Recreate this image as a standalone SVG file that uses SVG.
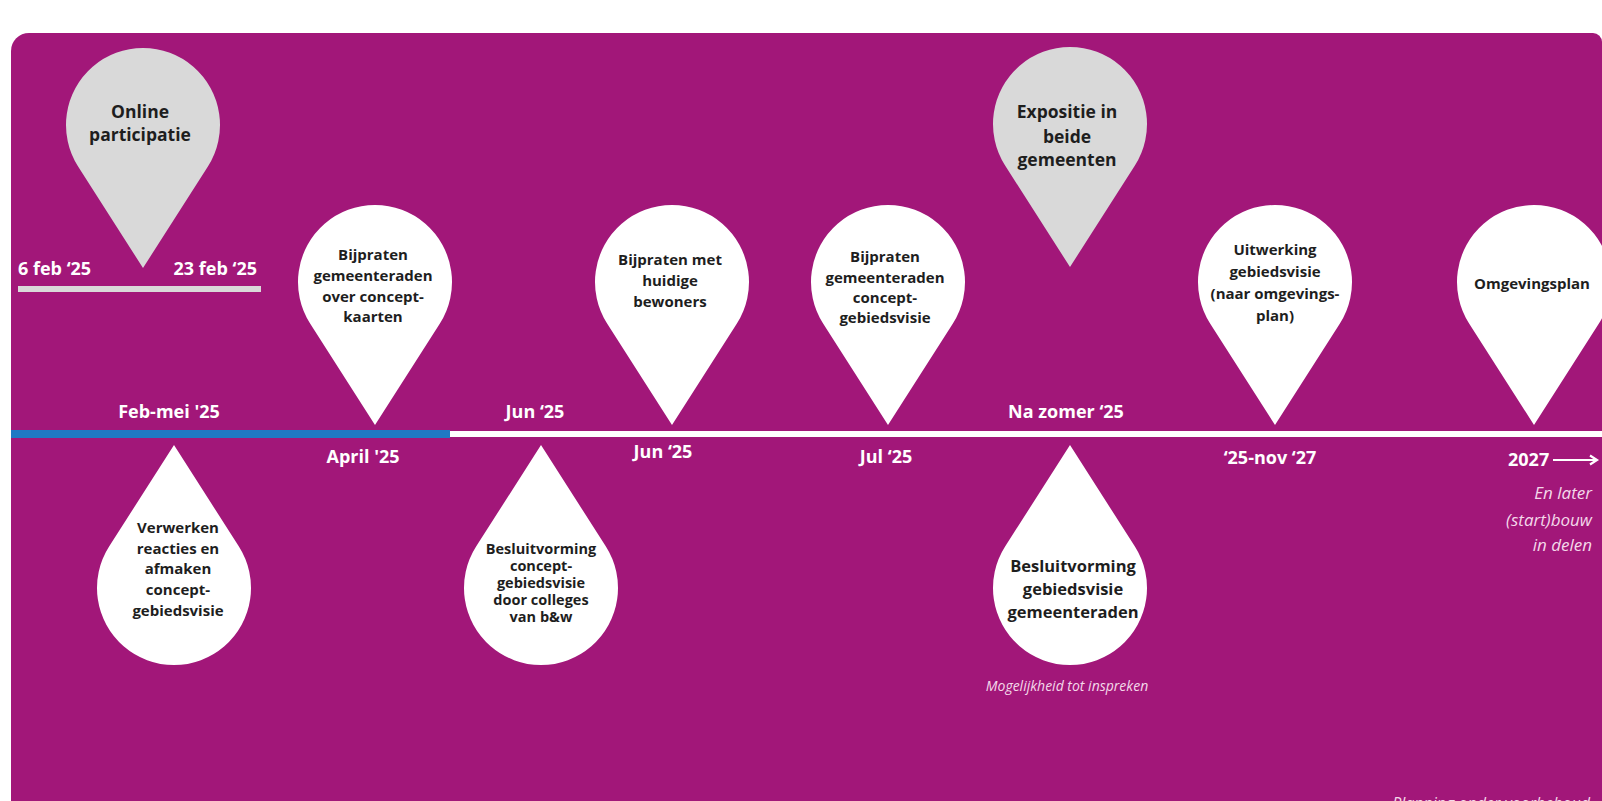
<svg xmlns="http://www.w3.org/2000/svg" xmlns:xlink="http://www.w3.org/1999/xlink" width="1602" height="801" viewBox="0 0 1602 801">
<style>
.bg{fill:#a21779}
.pinW{fill:#ffffff}
.pinG{fill:#d9d9d9}
.t{font-family:"Open Sans","Liberation Sans",sans-serif;font-weight:700;fill:#1e1e1e;text-anchor:middle}
.t15{font-size:15px}
.t17{font-size:17.5px}
.lab{font-family:"Open Sans","Liberation Sans",sans-serif;font-weight:700;font-size:18px;fill:#ffffff;text-anchor:middle}
.it{font-family:"Open Sans","Liberation Sans",sans-serif;font-style:italic;fill:#f4d9ea}
</style>
<defs>
<path id="pin" d="M0,143 L-64.9,41.46 A77,77 0 1 1 64.9,41.46 Z" stroke-linejoin="round"/>
<marker id="arr" markerWidth="14" markerHeight="14" refX="11" refY="7" orient="auto" markerUnits="userSpaceOnUse">
<path d="M4,2.5 L11,7 L4,11.5" fill="none" stroke="#ffffff" stroke-width="2.2"/>
</marker>
</defs>
<rect width="1602" height="801" fill="#ffffff"/>
<path class="bg" d="M11,51 A18,18 0 0 1 29,33 L1593,33 A9,9 0 0 1 1602,42 L1602,801 L11,801 Z"/>

<g id="connectors">
<rect x="11" y="430" width="439" height="8" fill="#2079c4"/>
<rect x="450" y="431" width="1152" height="6" fill="#ffffff"/>
<rect x="18" y="286" width="243" height="6" fill="#d9d9d9"/>
<line x1="1553" y1="460" x2="1597" y2="460" stroke="#ffffff" stroke-width="2.2" marker-end="url(#arr)"/>
</g>

<g id="online-participatie">
<use href="#pin" class="pinG" transform="translate(143,125)"/>
<text class="t t17"><tspan x="140" y="118">Online</tspan><tspan x="140" y="141">participatie</tspan></text>
<text class="lab" x="18" y="275" style="text-anchor:start">6 feb ‘25</text>
<text class="lab" x="257" y="275" style="text-anchor:end">23 feb ‘25</text>
</g>

<g id="bijpraten-kaarten">
<use href="#pin" class="pinW" transform="translate(375,282)"/>
<text class="t t15"><tspan x="373" y="260">Bijpraten</tspan><tspan x="373" y="281">gemeenteraden</tspan><tspan x="373" y="302">over concept-</tspan><tspan x="373" y="322">kaarten</tspan></text>
<text class="lab" x="363" y="463">April '25</text>
</g>

<g id="feb-mei">
<text class="lab" x="169" y="418">Feb-mei '25</text>
</g>

<g id="verwerken">
<use href="#pin" class="pinW" transform="translate(174,588) scale(1,-1)"/>
<text class="t t15"><tspan x="178" y="533">Verwerken</tspan><tspan x="178" y="554">reacties en</tspan><tspan x="178" y="574">afmaken</tspan><tspan x="178" y="595">concept-</tspan><tspan x="178" y="616">gebiedsvisie</tspan></text>
</g>

<g id="besluitvorming-colleges">
<use href="#pin" class="pinW" transform="translate(541,588) scale(1,-1)"/>
<text class="t" style="font-size:14.5px"><tspan x="541" y="554">Besluitvorming</tspan><tspan x="541" y="571">concept-</tspan><tspan x="541" y="588">gebiedsvisie</tspan><tspan x="541" y="605">door colleges</tspan><tspan x="541" y="622">van b&amp;w</tspan></text>
<text class="lab" x="535" y="418">Jun ‘25</text>
</g>

<g id="bijpraten-bewoners">
<use href="#pin" class="pinW" transform="translate(672,282)"/>
<text class="t t15"><tspan x="670" y="265">Bijpraten met</tspan><tspan x="670" y="286">huidige</tspan><tspan x="670" y="307">bewoners</tspan></text>
<text class="lab" x="663" y="458">Jun ‘25</text>
</g>

<g id="bijpraten-gebiedsvisie">
<use href="#pin" class="pinW" transform="translate(888,282)"/>
<text class="t t15"><tspan x="885" y="262">Bijpraten</tspan><tspan x="885" y="283">gemeenteraden</tspan><tspan x="885" y="303">concept-</tspan><tspan x="885" y="323">gebiedsvisie</tspan></text>
<text class="lab" x="886" y="463">Jul ‘25</text>
</g>

<g id="expositie">
<use href="#pin" class="pinG" transform="translate(1070,124)"/>
<text class="t t17"><tspan x="1067" y="118">Expositie in</tspan><tspan x="1067" y="143">beide</tspan><tspan x="1067" y="166">gemeenten</tspan></text>
<text class="lab" x="1066" y="418">Na zomer ‘25</text>
</g>

<g id="besluitvorming-gemeenteraden">
<use href="#pin" class="pinW" transform="translate(1070,588) scale(1,-1)"/>
<text class="t" style="font-size:16.5px"><tspan x="1073" y="572">Besluitvorming</tspan><tspan x="1073" y="595">gebiedsvisie</tspan><tspan x="1073" y="618">gemeenteraden</tspan></text>
<text class="it" x="1067" y="691" style="font-size:14px;text-anchor:middle">Mogelijkheid tot inspreken</text>
</g>

<g id="uitwerking">
<use href="#pin" class="pinW" transform="translate(1275,282)"/>
<text class="t t15"><tspan x="1275" y="255">Uitwerking</tspan><tspan x="1275" y="277">gebiedsvisie</tspan><tspan x="1275" y="299">(naar omgevings-</tspan><tspan x="1275" y="321">plan)</tspan></text>
<text class="lab" x="1270" y="464">‘25-nov ‘27</text>
</g>

<g id="omgevingsplan">
<use href="#pin" class="pinW" transform="translate(1534,282)"/>
<text class="t t15" x="1532" y="289">Omgevingsplan</text>
<text class="lab" x="1508" y="466" style="text-anchor:start">2027</text>
<text class="it" style="font-size:17px;text-anchor:end"><tspan x="1592" y="499">En later</tspan><tspan x="1592" y="526">(start)bouw</tspan><tspan x="1592" y="551">in delen</tspan></text>
</g>

<text class="it" x="1590" y="809" style="font-size:16px;text-anchor:end">Planning onder voorbehoud</text>
</svg>
